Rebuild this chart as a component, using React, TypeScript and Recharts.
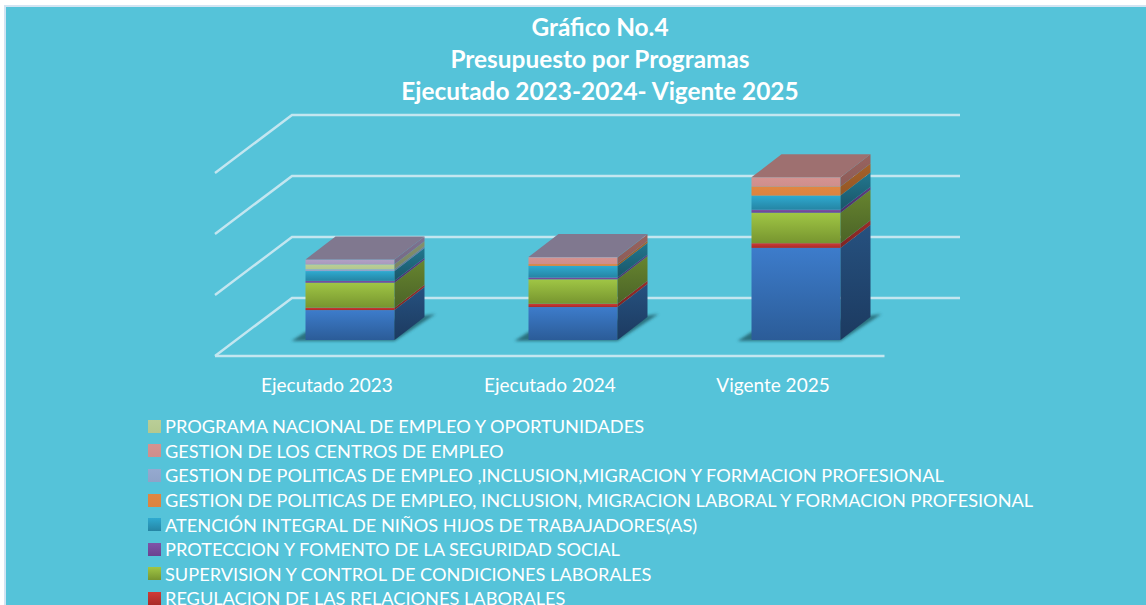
import React from "react";
import { BarChart, Bar, XAxis, YAxis, CartesianGrid, Legend } from "recharts";

const CATEGORIES = ["Ejecutado 2023", "Ejecutado 2024", "Vigente 2025"];

// values, in units where one gridline step is 100
const PRESUPUESTO = [49, 54, 151];
const REGULACION = [4, 5.5, 7.7];
const SUPERVISION = [41, 40, 50];
const PROTECCION = [3, 3, 5];
const ATENCION = [16, 19, 23];
const GESTION_LABORAL = [0, 3, 15];
const GESTION_FORMACION = [3, 0, 0];
const CENTROS = [0, 11, 15];
const PROGRAMA_NACIONAL = [8, 0, 0];
const OTROS = [8, 0.5, 0];

const Y_TICKS = [0, 100, 200, 300];

const TITLE_LINES = [
  "Gráfico No.4",
  "Presupuesto por Programas",
  "Ejecutado 2023-2024- Vigente 2025",
];

const SERIES = [
  { key: "s0", name: "PRESUPUESTO", values: PRESUPUESTO, hideLegend: true },
  { key: "s1", name: "REGULACION DE LAS RELACIONES LABORALES", values: REGULACION },
  { key: "s2", name: "SUPERVISION Y CONTROL DE CONDICIONES LABORALES", values: SUPERVISION },
  { key: "s3", name: "PROTECCION Y FOMENTO DE LA SEGURIDAD SOCIAL", values: PROTECCION },
  { key: "s4", name: "ATENCIÓN INTEGRAL DE NIÑOS HIJOS DE TRABAJADORES(AS)", values: ATENCION },
  { key: "s5", name: "GESTION DE POLITICAS DE EMPLEO, INCLUSION, MIGRACION LABORAL Y FORMACION PROFESIONAL", values: GESTION_LABORAL },
  { key: "s6", name: "GESTION DE POLITICAS DE EMPLEO ,INCLUSION,MIGRACION Y FORMACION PROFESIONAL", values: GESTION_FORMACION },
  { key: "s7", name: "GESTION DE LOS CENTROS DE EMPLEO", values: CENTROS },
  { key: "s8", name: "PROGRAMA NACIONAL DE EMPLEO Y OPORTUNIDADES", values: PROGRAMA_NACIONAL },
  { key: "s9", name: "OTROS", values: OTROS, hideLegend: true },
];

const rows = CATEGORIES.map((category, i) => {
  const row: Record<string, string | number> = { category };
  SERIES.forEach((s) => {
    row[s.key] = s.values[i];
  });
  return row;
});

// front top, front bottom, side top, side bottom, top face
const FACES: Record<string, string[]> = {
  s0: ["#3D7CCB", "#2B5C98", "#26517F", "#1C3A60", "#2B5C98"],
  s1: ["#CF3B37", "#A82B28", "#9A2D2A", "#7E2422", "#8E2A28"],
  s2: ["#A0C645", "#77952F", "#67852F", "#4B6327", "#64802E"],
  s3: ["#7F53A8", "#6A4290", "#5E3C7E", "#4C3066", "#5A3A78"],
  s4: ["#2FAAD0", "#2585A4", "#22778F", "#1A5568", "#1F6F88"],
  s5: ["#E08741", "#DD8340", "#A5622A", "#945624", "#A05E28"],
  s6: ["#95A9CF", "#8FA3C8", "#6F7F9E", "#65738F", "#6B7A99"],
  s7: ["#D59391", "#CF8E8C", "#98635F", "#8D5C58", "#9E7070"],
  s8: ["#BACE97", "#B3C88F", "#858F6C", "#7A8463", "#828F6B"],
  s9: ["#B1A1C5", "#A999BD", "#7F7390", "#746985", "#80788F"],
};

const DEPTH_X = 30;
const DEPTH_Y = 23;
const BG = "#55C3D9";
const GRID = "#C3E6F0";
const FONT = "Lato, 'Open Sans', sans-serif";

const BoxSegment = ({ x, y, width, height, payload, seriesKey }: any) => {
  const faces = FACES[seriesKey];
  const topKey = [...SERIES].reverse().find((s) => Number(payload[s.key]) > 0)?.key;
  const right = x + width;
  const bottom = y + height;
  return (
    <g>
      {seriesKey === "s0" && (
        <polygon
          points={`${x - 14},${bottom + 1} ${right},${bottom + 1} ${right + DEPTH_X + 11},${bottom - DEPTH_Y - 3} ${x},${bottom - 8}`}
          fill="#1E5560"
          opacity={0.75}
          filter="url(#floorShadow)"
        />
      )}
      <rect x={x} y={y} width={width} height={height} fill={`url(#front-${seriesKey})`} />
      <polygon
        points={`${right},${y} ${right + DEPTH_X},${y - DEPTH_Y} ${right + DEPTH_X},${bottom - DEPTH_Y} ${right},${bottom}`}
        fill={`url(#side-${seriesKey})`}
      />
      {topKey === seriesKey && (
        <polygon
          points={`${x},${y} ${right},${y} ${right + DEPTH_X},${y - DEPTH_Y} ${x + DEPTH_X},${y - DEPTH_Y}`}
          fill={faces[4]}
        />
      )}
    </g>
  );
};

// gridlines run along the back wall and come forward down the left wall
const GridLine = ({ x1, x2, y1, index }: any) => {
  const backY = y1 - 42;
  const wallX = x1 + 53.5;
  const frontX = x1 - 23.5;
  return (
    <g key={index} stroke={GRID} strokeWidth={2.4} fill="none">
      <polyline points={`${frontX},${backY + 58} ${wallX},${backY} ${x2 + 52.5},${backY}`} />
      {y1 === 340 && <line x1={frontX} y1={backY + 58} x2={x2 - 23} y2={backY + 58} />}
    </g>
  );
};

const CategoryTick = ({ x, y, payload }: any) => (
  <text
    x={x - 23}
    y={y + 44}
    textAnchor="middle"
    fill="#FFFFFF"
    fontSize={19}
    fontFamily={FONT}
  >
    {payload.value}
  </text>
);

const LegendList = ({ payload }: any) => {
  const shown = SERIES.filter((s) => !s.hideLegend).map((s) => s.name);
  const items = (payload || [])
    .filter((p: any) => shown.includes(p.value))
    .sort((a: any, b: any) => shown.indexOf(b.value) - shown.indexOf(a.value));
  return (
    <div style={{ fontFamily: FONT, fontSize: 18.2, color: "#FFFFFF" }}>
      {items.map((item: any) => {
        const faces = FACES[item.dataKey];
        return (
          <div
            key={item.value}
            style={{ display: "flex", alignItems: "center", height: 24.6, whiteSpace: "nowrap" }}
          >
            <span
              style={{
                width: 13,
                height: 13,
                marginRight: 4,
                flex: "none",
                background: `linear-gradient(${faces[0]}, ${faces[1]})`,
              }}
            />
            {item.value}
          </div>
        );
      })}
    </div>
  );
};

export default function App() {
  return (
    <div
      style={{
        position: "absolute",
        left: 0,
        top: 0,
        width: 1146,
        height: 605,
        overflow: "hidden",
        background: "#FFFFFF",
      }}
    >
      <div
        style={{
          position: "absolute",
          left: 4,
          top: 5,
          width: 1160,
          height: 620,
          background: BG,
          border: "2px solid #D3E4F2",
          boxSizing: "border-box",
        }}
      />
      <div
        style={{
          position: "absolute",
          left: 0,
          top: 11,
          width: 1200,
          textAlign: "center",
          color: "#FFFFFF",
          fontFamily: FONT,
          fontWeight: 700,
          fontSize: 24.4,
          lineHeight: "32px",
        }}
      >
        {TITLE_LINES.map((line) => (
          <div key={line}>{line}</div>
        ))}
      </div>
      <div style={{ position: "absolute", left: 0, top: 0 }}>
        <BarChart
          width={1146}
          height={605}
          data={rows}
          margin={{ top: 157, right: 238.5, bottom: 235, left: 238.5 }}
          barSize={89}
        >
          <defs>
            <filter id="floorShadow" x="-20%" y="-50%" width="140%" height="200%">
              <feGaussianBlur stdDeviation="1.6" />
            </filter>
            {SERIES.map((s) => (
              <React.Fragment key={s.key}>
                <linearGradient id={`front-${s.key}`} x1="0" y1="0" x2="0" y2="1">
                  <stop offset="0%" stopColor={FACES[s.key][0]} />
                  <stop offset="100%" stopColor={FACES[s.key][1]} />
                </linearGradient>
                <linearGradient id={`side-${s.key}`} x1="0" y1="0" x2="0" y2="1">
                  <stop offset="0%" stopColor={FACES[s.key][2]} />
                  <stop offset="100%" stopColor={FACES[s.key][3]} />
                </linearGradient>
              </React.Fragment>
            ))}
          </defs>
          <CartesianGrid vertical={false} horizontal={(props: any) => <GridLine {...props} />} />
          <XAxis
            dataKey="category"
            height={30}
            axisLine={false}
            tickLine={false}
            tick={(props: any) => <CategoryTick {...props} />}
            interval={0}
          />
          <YAxis hide domain={[0, 300]} ticks={Y_TICKS} />
          <Legend
            layout="horizontal"
            verticalAlign="middle"
            align="center"
            content={(props: any) => <LegendList {...props} />}
            wrapperStyle={{ position: "absolute", left: 148, top: 414, width: 960, height: 220 }}
          />
          {SERIES.map((s) => (
            <Bar
              key={s.key}
              dataKey={s.key}
              name={s.name}
              stackId="total"
              fill={FACES[s.key][0]}
              legendType={s.hideLegend ? "none" : "square"}
              isAnimationActive={false}
              shape={(props: any) => <BoxSegment {...props} seriesKey={s.key} />}
            />
          ))}
        </BarChart>
      </div>
    </div>
  );
}
